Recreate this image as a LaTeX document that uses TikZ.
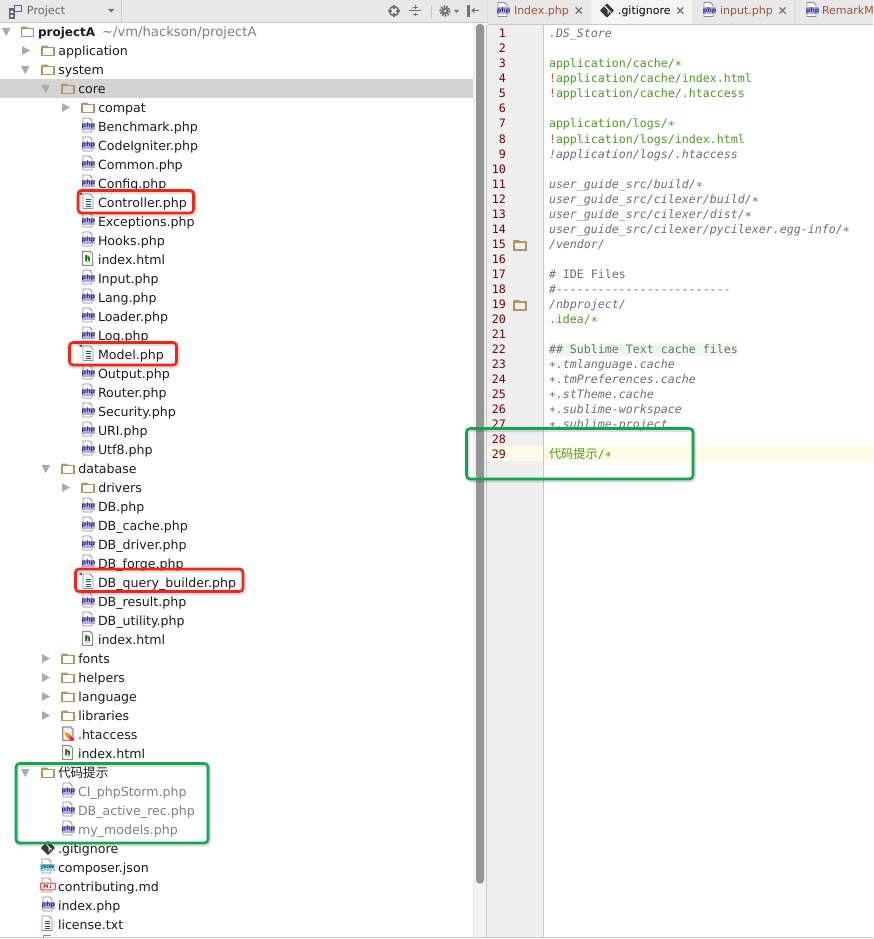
\documentclass[tikz,border=0pt]{standalone}
\usepackage{fontspec}
\setmainfont{DejaVu Sans}
\setmonofont{DejaVu Sans Mono}
\newfontfamily\cjk{Noto Sans CJK SC}
\definecolor{foldertan}{HTML}{B8935F}
\definecolor{arrowgray}{HTML}{ABABAB}
\definecolor{selrow}{HTML}{D4D4D4}
\definecolor{headbg}{HTML}{E8E8E8}
\definecolor{pageline}{HTML}{8E8E8E}
\definecolor{badgepurple}{HTML}{B5ABE6}
\definecolor{badgeink}{HTML}{34347A}
\definecolor{treeink}{HTML}{1C1C1C}
\definecolor{greyink}{HTML}{808080}
\definecolor{tabink}{HTML}{A5502F}
\definecolor{numink}{HTML}{800000}
\definecolor{commentink}{HTML}{6F6F6F}
\definecolor{greenink}{HTML}{4E9A26}
\definecolor{bangink}{HTML}{E0562A}
\definecolor{gutterbg}{HTML}{EFEFEF}
\definecolor{scrollbg}{HTML}{F3F3F3}
\definecolor{thumb}{HTML}{959595}
\definecolor{rulegray}{HTML}{C8C8C8}
\definecolor{markred}{HTML}{F0261C}
\definecolor{markgreen}{HTML}{10A650}
\definecolor{lineyellow}{HTML}{FFFBE6}
\definecolor{linegreen}{HTML}{EDF9ED}
\definecolor{htmlgreen}{HTML}{C5E5AE}
\newcommand\treefont{\fontsize{12.6}{15}\selectfont}
\newcommand\tabfont{\fontsize{11}{14}\selectfont}
\newcommand\codefont{\ttfamily\fontsize{11.62}{15}\selectfont}
\newcounter{autoname}
\tikzset{
  x=1pt,y=-1pt,
  lbl/.style={anchor=base west,inner sep=0pt,outer sep=0pt},
  treelbl/.style={lbl,font=\treefont,text=treeink},
  dimlbl/.style={lbl,font=\treefont,text=greyink},
  tablbl/.style={lbl,font=\tabfont,text=tabink},
  numlbl/.style={anchor=base east,inner sep=0pt,font=\codefont,text=numink},
  codelbl/.style={lbl,font=\codefont\itshape,text=commentink},
  greenlbl/.style={lbl,font=\codefont,text=greenink},
  uplbl/.style={lbl,font=\codefont,text=commentink},
  callout/.style={rounded corners=3.5pt,line width=2.6pt},
  calloutshadow/.style={rounded corners=3.5pt,line width=4pt,black,opacity=.13},
  folderpic/.pic={
    \draw[foldertan,line width=1.3pt] (.7,-2.6) rectangle (12.6,5.6);
    \fill[foldertan] (0,-4.4) -- (6,-4.4) -- (6.8,-2.6) -- (0,-2) -- cycle;
  },
  pagepath/.pic={
    \draw[pageline,fill=white,line width=.8pt] (1,-8) -- (7.5,-8) -- (10,-5.5) -- (10,6) -- (1,6) -- cycle;
  },
  phpicon/.pic={
    \pic at (0,0) {pagepath};
    \fill[badgepurple] (0,-3.2) rectangle (13,4);
    \node[inner sep=0pt,font=\bfseries\fontsize{6.3}{7}\selectfont,text=badgeink] (phpglyph) at (6.5,0.1) {php};
  },
  texticon/.pic={
    \draw[pageline,fill=white,line width=.8pt] (1,-8) -- (8,-8) -- (11,-5) -- (11,6.5) -- (1,6.5) -- cycle;
    \draw[blue!50!cyan!70!black,line width=.9pt] (3.5,-3) -- (8.5,-3) (3.5,-.5) -- (8.5,-.5) (3.5,2) -- (8.5,2) (3.5,4) -- (8.5,4);
  },
  closedmark/.pic={
    \draw[black!80,line width=.6pt] (-2.5,-9.5) -- (0,-7) (0,-9.5) -- (-2.5,-7);
  },
  htmlicon/.pic={
    \draw[pageline,fill=white,line width=1.1pt] (.6,-7.5) -- (8,-7.5) -- (10.6,-5) -- (10.6,6.4) -- (.6,6.4) -- cycle;
    \fill[htmlgreen] (3,-4) rectangle (8.4,3.6);
    \node[inner sep=0pt,font=\bfseries\fontsize{8}{8}\selectfont,text=green!30!black] (hglyph) at (5.7,-.4) {h};
  },
  jsonicon/.pic={
    \pic at (0,0) {pagepath};
    \fill[cyan!45] (-.6,-2.6) rectangle (14,3.8);
    \node[inner sep=0pt,font=\bfseries\fontsize{4.6}{5}\selectfont,text=black!80] (jglyph) at (6.7,.6) {JSON};
  },
  mdicon/.pic={
    \pic at (0,0) {pagepath};
    \draw[red!65!pink,fill=red!8,line width=1pt,rounded corners=1pt] (-.4,-3) rectangle (14.4,3.8);
    \node[inner sep=0pt,font=\bfseries\fontsize{5}{5}\selectfont,text=black!75] (mglyph) at (7,.4) {M↓};
  },
  accessicon/.pic={
    \draw[pageline,fill=black!6,line width=1.2pt] (.8,-7) -- (8.5,-7) -- (11,-4.5) -- (11,6.4) -- (.8,6.4) -- cycle;
    \fill[orange!90!yellow] (2.5,-2) .. controls (7,-1) and (11,2) .. (12.5,6.4) -- (8,6.4) .. controls (5,4) and (3,1) .. cycle;
    \fill[magenta!75!red] (8,2) .. controls (10.5,3) and (11.8,4.8) .. (12.5,6.4) -- (8.5,6.4) -- cycle;
  },
  giticon/.pic={
    \fill[black!78,rounded corners=.8pt] (7,-7.2) -- (14.2,0) -- (7,7.2) -- (-.2,0) -- cycle;
    \draw[white,line width=1pt] (4.6,-4.6) -- (8,-1) -- (8,3.6) (8,-1) -- (11,2);
  },
  darrow/.pic={\fill[arrowgray] (0,-4) -- (8.5,-4) -- (4.25,4.2) -- cycle;},
  rarrow/.pic={\fill[arrowgray] (0,-4.4) -- (8,0) -- (0,4.4) -- cycle;},
  tabx/.pic={\draw[black!55,line width=1.3pt] (-3,-3) -- (3,3) (-3,3) -- (3,-3);},
}
% tree rows: baseline 5.4 below the row centre
\newcommand\txt[4][treelbl]{\stepcounter{autoname}\node[#1] (t\arabic{autoname}) at (#2,#3+5.4) {#4};}
\newcommand\php[2]{\pic at (82,#1) {phpicon}; \txt{98}{#1}{#2}}
\newcommand\folder[4][]{\pic at (#2,#3) {folderpic}; \txt{#2+17}{#3}{#4}}
\newcommand\code[3]{\stepcounter{autoname}\node[#1] (c\arabic{autoname}) at (549,18+15*#2+5) {#3};}
\begin{document}
\begin{tikzpicture}
\useasboundingbox (0,0) rectangle (873,939);
\clip (0,0) rectangle (873,939);
\fill[white] (0,0) rectangle (873,939);

% ---- panels
\fill[scrollbg] (473,22) rectangle (486,937);
\fill[gutterbg] (486,25) rectangle (543,937);
\fill[selrow] (0,79) rectangle (473,98);
\fill[lineyellow] (486.5,446) rectangle (873,461);
\fill[linegreen] (549,343) rectangle (738,356);
\draw[rulegray,line width=.8pt] (486,25) -- (486,937) (543,25) -- (543,937);
\draw[black!8,line width=.8pt] (473,22) -- (473,937);
\fill[thumb,rounded corners=3.5pt] (476,24) rectangle (484,883.5);
\draw[rulegray,line width=1pt] (0,937.5) -- (873,937.5);

% ---- left header
\fill[headbg] (0,0) rectangle (487,22);
\draw[rulegray,line width=.8pt] (0,22) -- (487,22);
\draw[rulegray,line width=1pt] (121,0) -- (121,22);
\fill[black!60] (8.5,8) rectangle (15,19);
\fill[white] (10.5,11) rectangle (13,13) (10.5,15) rectangle (13,17);
\draw[blue!30!gray,line width=1pt] (14.5,5.5) rectangle (21.5,12);
\node[lbl,font=\fontsize{11.2}{14}\selectfont,text=black!60] (headtitle) at (27,14.6) {Project};
\fill[black!55] (108,9) -- (114.5,9) -- (111.2,12.5) -- cycle;
% header tools
\draw[black!55,line width=1.6pt] (394,11) circle (4.6);
\draw[black!55,line width=1.2pt] (394,5) -- (394,9) (394,13) -- (394,17) (388,11) -- (392,11) (396,11) -- (400,11);
\draw[black!55,line width=1pt] (409,11) -- (421,11) (415,5.5) -- (415,9) (412.5,7.5) -- (417.5,7.5) (415,13) -- (415,16.5) (412.5,14.5) -- (417.5,14.5);
\draw[rulegray,line width=.8pt] (431,5) -- (431,18);
\draw[black!55,line width=2.2pt,dash pattern=on 1.6pt off 1.2pt] (445,11) circle (4.6);
\fill[black!55] (445,11) circle (3.4);
\fill[headbg] (445,11) circle (1.4);
\fill[black!55] (454,10) -- (459,10) -- (456.5,13) -- cycle;
\draw[black!55,line width=1.1pt] (468,5.5) rectangle (469.6,16.5);
\draw[black!55,line width=1pt] (472,10.5) -- (479,10.5) (474.5,8.5) -- (472,10.5) -- (474.5,12.5);

% ---- tabs
\fill[headbg] (487,0) rectangle (873,25);
\fill[black!4] (591,0) rectangle (692,25);
\draw[rulegray,line width=1pt] (487,25) -- (873,25);
\draw[black!14,line width=.8pt] (487,0) -- (487,25) (794.5,0) -- (794.5,25);
\pic at (497,10.5) {phpicon};
\node[tablbl] (tabindex) at (514,14.4) {Index.php};
\pic at (578.7,10.5) {tabx};
\pic at (600,10.5) {giticon};
\node[tablbl,text=black] (tabgit) at (618,14.4) {.gitignore};
\pic at (680.3,10.5) {tabx};
\pic at (703,10.5) {phpicon};
\node[tablbl] (tabinput) at (720,14.4) {input.php};
\pic at (782.5,10.5) {tabx};
\pic at (806,10.5) {phpicon};
\node[tablbl] (tabremark) at (822,14.4) {RemarkMe};

% ---- tree
\pic at (2,32) {darrow};
\pic at (21,31) {folderpic};
\node[lbl,font=\bfseries\fontsize{12}{15}\selectfont,text=treeink] (rootname) at (38,36.4) {projectA};
\node[lbl,font=\fontsize{13.2}{15}\selectfont,text=greyink] (rootpath) at (102,36.4) {\textasciitilde/vm/hackson/projectA};

\pic at (22,50.5) {rarrow};
\folder{41.4}{50}{application}
\pic at (21,70) {darrow};
\folder{41.4}{69}{system}
\pic at (41.5,89) {darrow};
\folder{61.3}{88}{core}
\pic at (62,107.5) {rarrow};
\folder{81.3}{107}{compat}
\php{126}{Benchmark.php}
\php{145}{CodeIgniter.php}
\php{164}{Common.php}
\php{183}{Config.php}
\pic at (82,202) {texticon};
\pic at (82,202) {closedmark};
\txt{98}{202}{Controller.php}
\php{221}{Exceptions.php}
\php{240}{Hooks.php}
\pic at (82,259) {htmlicon};
\txt{98}{259}{index.html}
\php{278}{Input.php}
\php{297}{Lang.php}
\php{316}{Loader.php}
\php{335}{Log.php}
\pic at (82,354) {texticon};
\pic at (82,354) {closedmark};
\txt{98}{354}{Model.php}
\php{373}{Output.php}
\php{392}{Router.php}
\php{411}{Security.php}
\php{430}{URI.php}
\php{449}{Utf8.php}
\pic at (41.5,469) {darrow};
\folder{61.3}{468}{database}
\pic at (62,487.5) {rarrow};
\folder{81.3}{487}{drivers}
\php{506}{DB.php}
\php{525}{DB\_cache.php}
\php{544}{DB\_driver.php}
\php{563}{DB\_forge.php}
\pic at (82,582) {texticon};
\pic at (82,582) {closedmark};
\txt{98}{582}{DB\_query\_builder.php}
\php{601}{DB\_result.php}
\php{620}{DB\_utility.php}
\pic at (82,639) {htmlicon};
\txt{98}{639}{index.html}
\pic at (42,658.5) {rarrow};
\folder{61.3}{658}{fonts}
\pic at (42,677.5) {rarrow};
\folder{61.3}{677}{helpers}
\pic at (42,696.5) {rarrow};
\folder{61.3}{696}{language}
\pic at (42,715.5) {rarrow};
\folder{61.3}{715}{libraries}
\pic at (62,734) {accessicon};
\txt{78}{734}{.htaccess}
\pic at (62,753) {htmlicon};
\txt{78}{753}{index.html}
\pic at (21,773) {darrow};
\pic at (41.4,772) {folderpic};
\txt{58}{772}{{\cjk 代码提示}}
\pic at (62,791) {phpicon};
\txt[dimlbl]{78}{791}{CI\_phpStorm.php}
\pic at (62,810) {phpicon};
\txt[dimlbl]{78}{810}{DB\_active\_rec.php}
\pic at (62,829) {phpicon};
\txt[dimlbl]{78}{829}{my\_models.php}
\pic at (41,848) {giticon};
\txt{58}{848}{.gitignore}
\pic at (41,867) {jsonicon};
\txt{58}{867}{composer.json}
\pic at (41,886) {mdicon};
\txt{58}{886}{contributing.md}
\pic at (42,905) {phpicon};
\txt{58}{905}{index.php}
\pic at (41,924) {texticon};
\txt{58}{924}{license.txt}
\draw[pageline,line width=.7pt] (43,937) -- (43,935) -- (51,935);

% ---- line numbers
\foreach \n in {1,...,29}{
  \node[numlbl] (num\n) at (506,18+15*\n+5) {\n};
}
\pic at (513.3,244.5) {folderpic};
\pic at (513.3,304.5) {folderpic};

% ---- code
\code{codelbl}{1}{.DS\_Store}
\code{greenlbl}{3}{application/cache/∗}
\code{greenlbl}{4}{\textcolor{bangink}{!}application/cache/index.html}
\code{greenlbl}{5}{\textcolor{bangink}{!}application/cache/.htaccess}
\code{greenlbl}{7}{application/logs/∗}
\code{greenlbl}{8}{\textcolor{bangink}{!}application/logs/index.html}
\code{codelbl}{9}{!application/logs/.htaccess}
\code{codelbl}{11}{user\_guide\_src/build/∗}
\code{codelbl}{12}{user\_guide\_src/cilexer/build/∗}
\code{codelbl}{13}{user\_guide\_src/cilexer/dist/∗}
\code{codelbl}{14}{user\_guide\_src/cilexer/pycilexer.egg-info/∗}
\code{codelbl}{15}{/vendor/}
\code{uplbl}{17}{\# IDE Files}
\code{codelbl}{18}{\#-------------------------}
\code{codelbl}{19}{/nbproject/}
\code{greenlbl}{20}{.idea/∗}
\code{uplbl}{22}{\#\# Sublime Text cache files}
\code{codelbl}{23}{∗.tmlanguage.cache}
\code{codelbl}{24}{∗.tmPreferences.cache}
\code{codelbl}{25}{∗.stTheme.cache}
\code{codelbl}{26}{∗.sublime-workspace}
\code{codelbl}{27}{∗.sublime-project}
\code{greenlbl}{29}{{\cjk\fontsize{12.2}{15}\selectfont 代码提示}/∗}

% ---- annotation rectangles
\draw[calloutshadow] (79,192) rectangle (195,214.5);
\draw[callout,markred] (78,190.5) rectangle (193.5,213);
\draw[calloutshadow] (70.5,344) rectangle (178,366.5);
\draw[callout,markred] (69.5,342.5) rectangle (176.5,365);
\draw[calloutshadow] (76.5,570.5) rectangle (244,593);
\draw[callout,markred] (75.5,569) rectangle (243,591.5);
\draw[calloutshadow] (17,765) rectangle (209,844.5);
\draw[callout,markgreen] (16,763.5) rectangle (208,843);
\draw[calloutshadow] (467.5,430) rectangle (694,480.5);
\draw[callout,markgreen] (466.5,428.5) rectangle (693,479);
\end{tikzpicture}
\end{document}
